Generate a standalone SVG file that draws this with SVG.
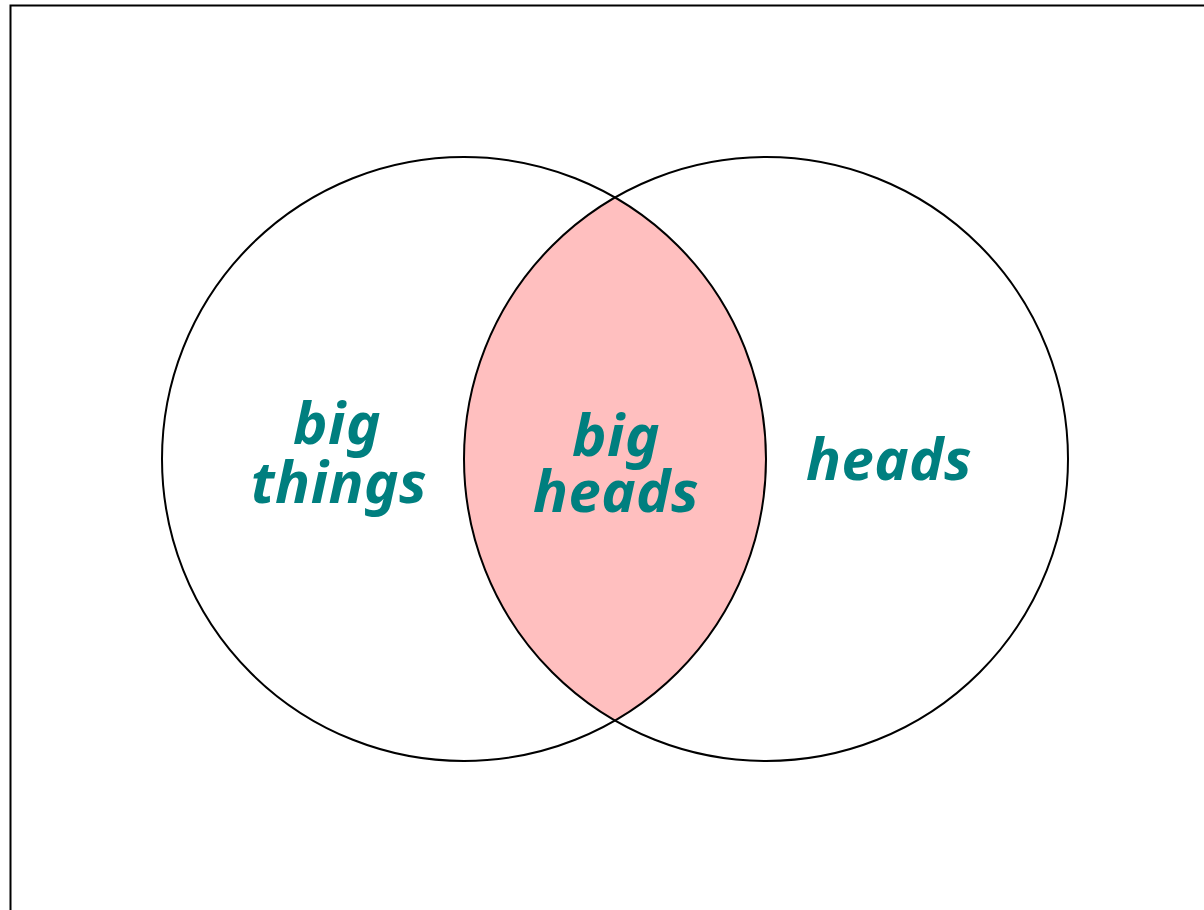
<svg xmlns="http://www.w3.org/2000/svg" width="1204" height="910" viewBox="0 0 1204 910">
<style>
.c{fill:none;stroke:#000;stroke-width:2}
.t{font-family:"Noto Sans","Open Sans",sans-serif;font-weight:bold;font-style:italic;font-size:58px;letter-spacing:0.5px;fill:#007F7F;text-anchor:middle}
</style>
<rect x="0" y="0" width="1204" height="910" fill="#fff"/>
<path d="M10.5,910 V5.5 H1204" fill="none" stroke="#000" stroke-width="2"/>
<g id="lens">
<path d="M615,197.5 A302,302 0 0 1 615,720.5 A302,302 0 0 1 615,197.5 Z" fill="#FFBFBF"/>
</g>
<g id="left">
<circle class="c" cx="464" cy="459" r="302"/>
<text class="t" x="337" y="444">big</text>
<text class="t" x="339" y="503">things</text>
</g>
<g id="right">
<circle class="c" cx="766" cy="459" r="302"/>
<text class="t" x="889" y="480">heads</text>
</g>
<g id="middle">
<text class="t" x="616" y="456">big</text>
<text class="t" x="616" y="512">heads</text>
</g>
</svg>
